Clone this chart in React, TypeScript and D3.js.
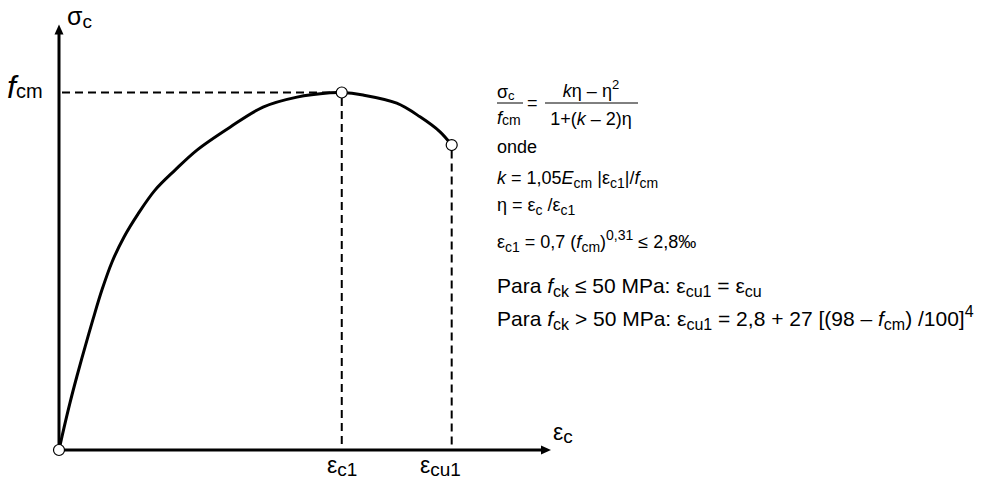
import React from "react";
import * as d3 from "d3";

// ---- data ----
// normalised strain (arbitrary units along the ε_c axis) and stress σc/fcm
const strain = [0, 0.044, 0.097, 0.159, 0.23, 0.301, 0.38, 0.469, 0.575, 0.698, 0.849, 1.026, 1.22, 1.512, 1.804, 2.104, 2.396, 2.5, 2.688, 2.986, 3.192, 3.369, 3.472];
const stress = [0, 0.062, 0.132, 0.207, 0.288, 0.366, 0.448, 0.526, 0.596, 0.66, 0.727, 0.783, 0.839, 0.903, 0.959, 0.987, 0.999, 1.0, 0.993, 0.97, 0.932, 0.89, 0.853];
const epsC1 = 2.5;
const epsCu1 = 3.472;
const stressCu1 = 0.853;
const xMax = 4.35;
const yMax = 1.19;

type Seg = { t: string; i?: boolean; s?: "sub" | "sup" };

const formulaLines: { y: number; size: number; segs: Seg[] }[] = [
  { y: 153, size: 18, segs: [{ t: "onde" }] },
  {
    y: 184, size: 18,
    segs: [{ t: "k", i: true }, { t: " = 1,05" }, { t: "E", i: true }, { t: "cm", s: "sub" }, { t: " |ε" }, { t: "c1", s: "sub" }, { t: "|/" }, { t: "f", i: true }, { t: "cm", s: "sub" }],
  },
  { y: 211, size: 18, segs: [{ t: "η = ε" }, { t: "c", s: "sub" }, { t: " /ε" }, { t: "c1", s: "sub" }] },
  {
    y: 248, size: 18,
    segs: [{ t: "ε" }, { t: "c1", s: "sub" }, { t: " = 0,7 (" }, { t: "f", i: true }, { t: "cm", s: "sub" }, { t: ")" }, { t: "0,31", s: "sup" }, { t: " ≤ 2,8‰" }],
  },
  {
    y: 293, size: 21,
    segs: [{ t: "Para " }, { t: "f", i: true }, { t: "ck", s: "sub" }, { t: " ≤ 50 MPa: ε" }, { t: "cu1", s: "sub" }, { t: " = ε" }, { t: "cu", s: "sub" }],
  },
  {
    y: 326, size: 21,
    segs: [{ t: "Para " }, { t: "f", i: true }, { t: "ck", s: "sub" }, { t: " > 50 MPa: ε" }, { t: "cu1", s: "sub" }, { t: " = 2,8 + 27 [(98 – " }, { t: "f", i: true }, { t: "cm", s: "sub" }, { t: ") /100]" }, { t: "4", s: "sup" }],
  },
];

const FONT = "'Liberation Sans', Arial, Helvetica, sans-serif";

function Rich(props: { x: number; y: number; segs: Seg[]; size: number; subSize?: number; anchor?: string; subOff?: number; supOff?: number }) {
  const { x, y, segs, size, anchor } = props;
  const subSize = props.subSize ?? Math.round(size * 0.72);
  const subOff = props.subOff ?? size * 0.2;
  const supOff = props.supOff ?? size * 0.42;
  let cur = 0;
  return (
    <text x={x} y={y} fontSize={size} fontFamily={FONT} textAnchor={anchor || "start"} fill="#000">
      {segs.map((s, k) => {
        const target = s.s === "sub" ? subOff : s.s === "sup" ? -supOff : 0;
        const dy = target - cur;
        cur = target;
        return (
          <tspan key={k} dy={dy} fontStyle={s.i ? "italic" : "normal"} fontSize={s.s ? subSize : size}>
            {s.t}
          </tspan>
        );
      })}
    </text>
  );
}

export default function App() {
  const W = 985, H = 481;
  const x = d3.scaleLinear().domain([0, xMax]).range([59, 551]);
  const y = d3.scaleLinear().domain([0, 1]).range([450, 92.5]);
  const pts: [number, number][] = strain.map((s, i) => [s, stress[i]]);
  const line = d3.line<[number, number]>().x((d) => x(d[0])).y((d) => y(d[1])).curve(d3.curveCatmullRom.alpha(0.5));

  const ox = x(0), oy = y(0);
  const xt = x(xMax), yt = y(yMax);
  const r = 5.5;
  const dash = "8,5";

  return (
    <svg width={W} height={H} style={{ position: "absolute", left: 0, top: 0, background: "#fff" }}>
      <rect width={W} height={H} fill="#fff" />
      {/* dashed guides */}
      <line x1={ox + 3} x2={x(epsC1) - r} y1={y(1)} y2={y(1)} stroke="#000" strokeWidth={2} strokeDasharray={dash} />
      <line x1={x(epsC1)} x2={x(epsC1)} y1={y(1) + r} y2={oy - 2} stroke="#000" strokeWidth={2} strokeDasharray={dash} />
      <line x1={x(epsCu1)} x2={x(epsCu1)} y1={y(stressCu1) + r} y2={oy - 2} stroke="#000" strokeWidth={2} strokeDasharray={dash} />
      {/* axes */}
      <line x1={ox} x2={ox} y1={oy} y2={yt + 9} stroke="#000" strokeWidth={3} />
      <path d={`M${ox},${yt} L${ox - 4.5},${yt + 10} L${ox + 4.5},${yt + 10} Z`} fill="#000" />
      <line x1={ox} x2={xt - 9} y1={oy} y2={oy} stroke="#000" strokeWidth={3} />
      <path d={`M${xt},${oy} L${xt - 10},${oy - 4.5} L${xt - 10},${oy + 4.5} Z`} fill="#000" />
      {/* curve */}
      <path d={line(pts) || ""} fill="none" stroke="#000" strokeWidth={3} />
      {/* points */}
      <circle cx={ox} cy={oy} r={r} fill="#fff" stroke="#000" strokeWidth={1.2} />
      <circle cx={x(epsC1)} cy={y(1)} r={r} fill="#fff" stroke="#000" strokeWidth={1.2} />
      <circle cx={x(epsCu1)} cy={y(stressCu1)} r={r} fill="#fff" stroke="#000" strokeWidth={1.2} />
      {/* axis labels */}
      <Rich x={67} y={25} size={25} subSize={19} subOff={3} segs={[{ t: "σ" }, { t: "c", s: "sub" }]} />
      <Rich x={553} y={440} size={23} subSize={19} subOff={3} segs={[{ t: "ε" }, { t: "c", s: "sub" }]} />
      <Rich x={7} y={98} size={32} subSize={20} subOff={0} segs={[{ t: "f", i: true }, { t: "cm", s: "sub" }]} />
      <Rich x={327} y={473} size={23} subSize={19} subOff={3} segs={[{ t: "ε" }, { t: "c1", s: "sub" }]} />
      <Rich x={420} y={473} size={23} subSize={19} subOff={3} segs={[{ t: "ε" }, { t: "cu1", s: "sub" }]} />
      {/* formula: fraction */}
      <Rich x={497} y={98} size={18} subSize={13} subOff={2} segs={[{ t: "σ" }, { t: "c", s: "sub" }]} />
      <line x1={497} x2={523} y1={103} y2={103} stroke="#000" strokeWidth={1} />
      <Rich x={497} y={124} size={18} subSize={14} subOff={1} segs={[{ t: "f", i: true }, { t: "cm", s: "sub" }]} />
      <text x={527} y={109} fontSize={18} fontFamily={FONT}>=</text>
      <Rich x={591} y={97} size={18} anchor="middle" segs={[{ t: "k", i: true }, { t: "η – η" }, { t: "2", s: "sup" }]} />
      <line x1={545} x2={638} y1={103} y2={103} stroke="#000" strokeWidth={1} />
      <Rich x={591} y={125} size={18} anchor="middle" segs={[{ t: "1+(" }, { t: "k", i: true }, { t: " – 2)η" }]} />
      {formulaLines.map((l, k) => (
        <Rich key={k} x={497} y={l.y} size={l.size} subSize={l.size > 18 ? 16 : 14} segs={l.segs} />
      ))}
    </svg>
  );
}
